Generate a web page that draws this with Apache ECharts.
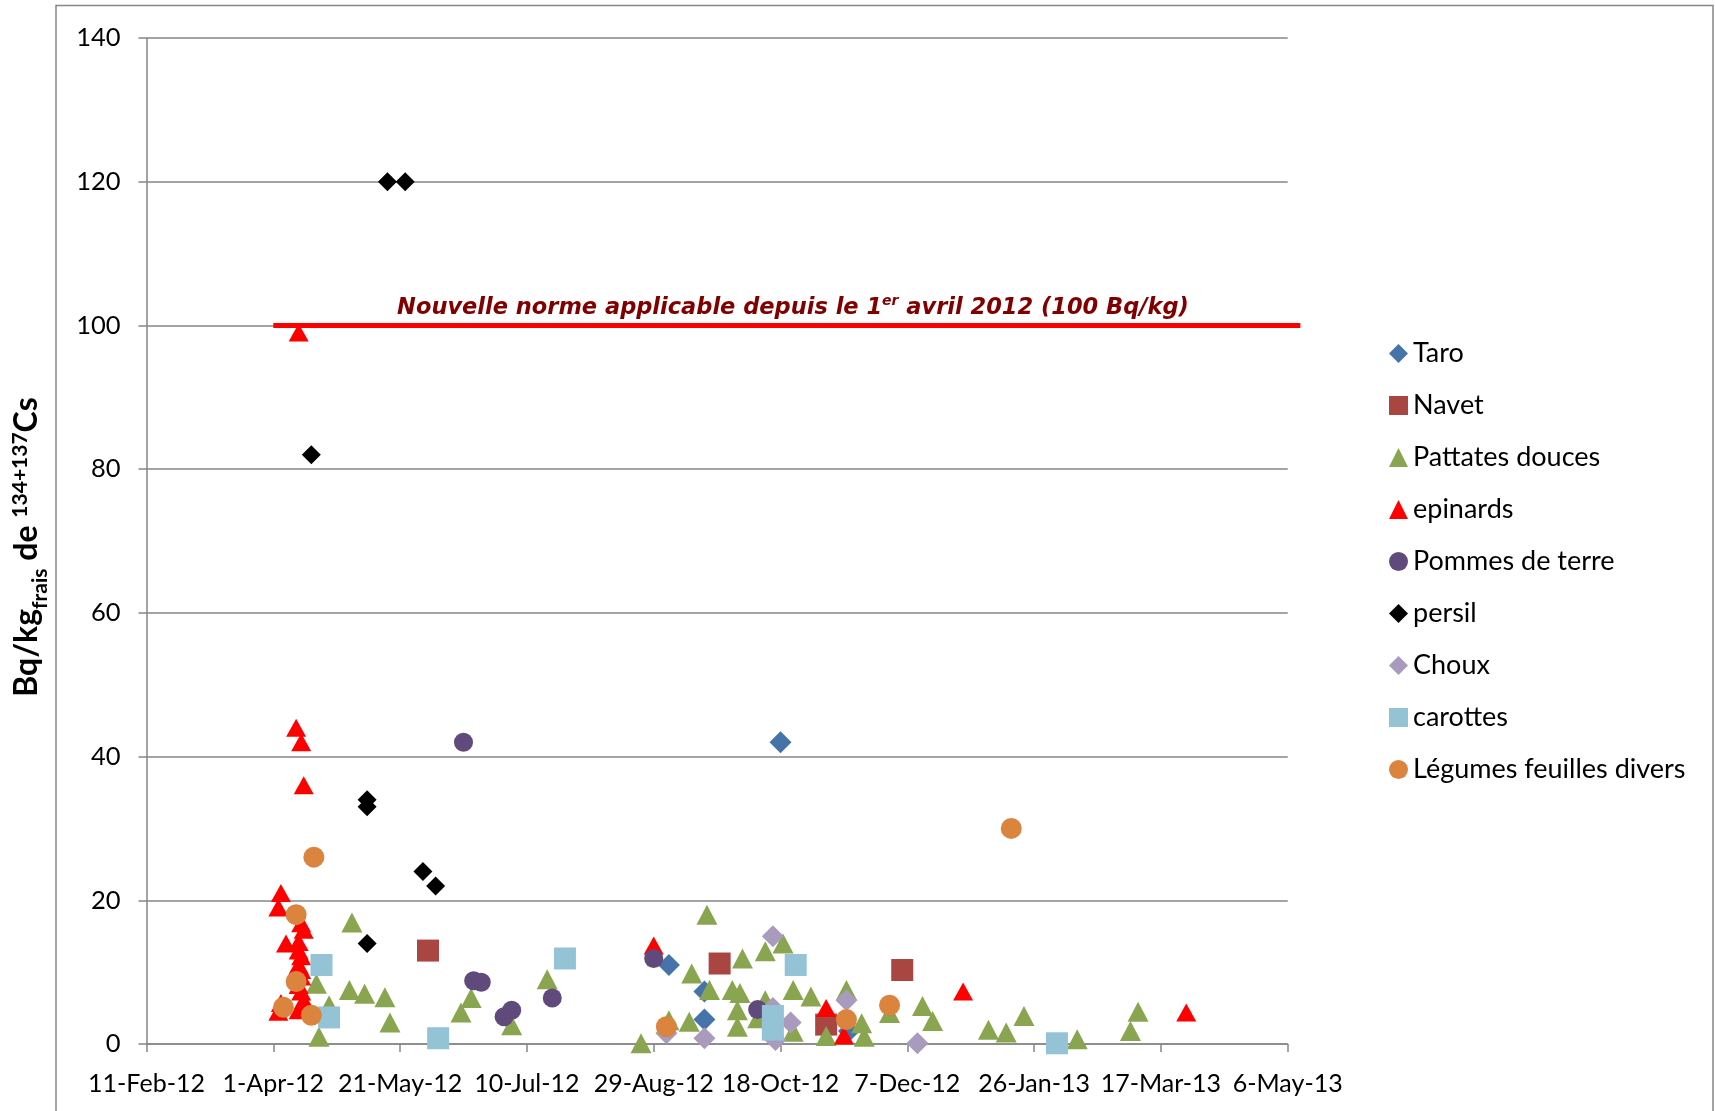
<!DOCTYPE html>
<html><head><meta charset="utf-8">
<script src="https://cdn.jsdelivr.net/npm/echarts/dist/echarts.min.js"></script>
<style>html,body{margin:0;padding:0;background:#fff}#c{width:1715px;height:1111px}</style>
</head><body><div id="c"></div>
<script>
// ---- data ----
const originDate = '2012-02-11';
const xTickStepDays = 50;
const xMaxDays = 450;
const yTicks = [0, 20, 40, 60, 80, 100, 120, 140];
const monthNames = ['Jan','Feb','Mar','Apr','May','Jun','Jul','Aug','Sep','Oct','Nov','Dec'];

const seriesNames = ['Taro','Navet','Pattates douces','epinards','Pommes de terre','persil','Choux','carottes','Légumes feuilles divers'];

const taroDates = ['2012-10-18','2012-09-04','2012-09-18','2012-09-18','2012-11-14'];
const taroValues = [42, 11.0, 7.3, 3.4, 1.8];

const navetDates = ['2012-06-01','2012-09-24','2012-11-05','2012-12-05'];
const navetValues = [13.0, 11.2, 2.7, 10.3];

const pattatesDates = ['2012-04-18','2012-04-19','2012-04-23','2012-05-01','2012-05-02','2012-05-07','2012-05-15','2012-05-17',
  '2012-06-14','2012-06-18','2012-07-04','2012-07-18','2012-08-24','2012-09-04','2012-09-12','2012-09-13','2012-09-19','2012-09-20',
  '2012-09-29','2012-10-01','2012-10-01','2012-10-02','2012-10-03','2012-10-09','2012-10-12','2012-10-12','2012-10-19','2012-10-23',
  '2012-10-23','2012-10-30','2012-11-05','2012-11-13','2012-11-19','2012-11-20','2012-11-30','2012-12-13','2012-12-17',
  '2013-01-08','2013-01-15','2013-01-22','2013-02-12','2013-03-05','2013-03-08'];
const pattatesValues = [8.4, 1.0, 5.4, 7.5, 16.9, 7.0, 6.5, 3.0,
  4.4, 6.4, 2.6, 9.0, 0.1, 3.3, 3.1, 9.8, 18.0, 7.5,
  7.5, 2.4, 4.7, 7.1, 11.9, 3.6, 6.1, 12.9, 14.0, 7.5,
  1.7, 6.6, 1.1, 7.5, 2.9, 1.0, 4.3, 5.3, 3.2,
  2.0, 1.6, 3.9, 0.65, 1.8, 4.5];

const epinardsDates = ['2012-04-03','2012-04-04','2012-04-06','2012-04-10','2012-04-11','2012-04-12','2012-04-13',
  '2012-04-12','2012-04-13','2012-04-11','2012-04-12','2012-04-11','2012-04-12','2012-04-11','2012-04-12','2012-04-13','2012-04-11','2012-04-12','2012-04-11',
  '2012-04-04','2012-04-03','2012-08-29','2012-11-05','2012-11-12','2012-12-29','2013-03-27'];
const epinardsValues = [19, 21, 14, 44, 99, 42, 36,
  16.8, 15.9, 14.2, 12.2, 11.0, 9.4, 8.2, 7.3, 6.1, 4.7, 10.3, 13.0,
  5.7, 4.5, 13.7, 5.0, 1.2, 7.3, 4.4];

const pommesDates = ['2012-06-15','2012-06-19','2012-06-22','2012-07-01','2012-07-04','2012-07-20','2012-08-29','2012-10-09'];
const pommesValues = [42, 8.8, 8.6, 3.8, 4.7, 6.4, 11.9, 4.8];

const persilDates = ['2012-05-16','2012-05-23','2012-04-16','2012-05-08','2012-05-08','2012-05-30','2012-06-04','2012-05-08'];
const persilValues = [120, 120, 82, 34, 33, 24, 22, 14];

const chouxDates = ['2012-09-03','2012-09-18','2012-10-15','2012-10-15','2012-10-22','2012-10-16','2012-11-13','2012-12-11'];
const chouxValues = [1.5, 0.8, 15.0, 5.0, 3.0, 0.55, 6.1, 0.1];

const carottesDates = ['2012-04-20','2012-04-23','2012-06-05','2012-07-25','2012-10-24','2012-10-15','2012-10-15','2013-02-04'];
const carottesValues = [11.0, 3.7, 0.8, 11.9, 11.0, 3.9, 2.0, 0.1];

const legumesDates = ['2012-04-17','2012-04-10','2012-04-10','2012-04-05','2012-04-16','2012-09-03','2012-11-13','2012-11-30','2013-01-17'];
const legumesValues = [26, 18, 8.7, 5.1, 4.0, 2.4, 3.4, 5.4, 30];

const normeDates = ['2012-04-01','2013-05-11'];
const normeValues = [100, 100];
const normeLabel = 'Nouvelle norme applicable depuis le 1';
const normeLabelSup = 'er';
const normeLabelEnd = ' avril 2012 (100 Bq/kg)';

// ---- helpers ----
function parseUTC(s){ const p = s.split('-').map(Number); return Date.UTC(p[0], p[1]-1, p[2]); }
const origin = parseUTC(originDate);
function dayOf(s){ return (parseUTC(s) - origin) / 864e5; }
function pairs(dates, vals){ return dates.map((d,i)=>[dayOf(d), vals[i]]); }
function fmtDay(v){
  const dt = new Date(origin + v*864e5);
  return dt.getUTCDate() + '-' + monthNames[dt.getUTCMonth()] + '-' + String(dt.getUTCFullYear()).slice(2);
}

const FONT = 'Lato';
const NORME_COLOR = '#800000';
const chart = echarts.init(document.getElementById('c'), null, {renderer:'canvas'});

function sc(name, dates, vals, symbol, size, color){
  return { name, type:'scatter', data: pairs(dates, vals), symbol, symbolSize: size,
    itemStyle:{ color, opacity:1 }, emphasis:{disabled:true}, z:3 };
}

const staticGraphics = [
  { id:'frame', type:'rect', silent:true, shape:{ x:56, y:5.5, width:1657, height:1120 },
    style:{ fill:'none', stroke:'#868686', lineWidth:1.5 }, z:-1 },
  { id:'normeText', type:'text', silent:true, x:793, y:308, style:{
    text:'{a|'+normeLabel+'}{s|'+normeLabelSup+'}{a|'+normeLabelEnd+'}',
    align:'center', verticalAlign:'middle', fill:NORME_COLOR,
    rich:{ a:{ fontFamily:'DejaVu Sans', fontStyle:'italic', fontWeight:'bold', fontSize:22.5, fill:NORME_COLOR, color:NORME_COLOR, lineHeight:28 },
           s:{ fontFamily:'DejaVu Sans', fontStyle:'italic', fontWeight:'bold', fontSize:14, fill:NORME_COLOR, color:NORME_COLOR, verticalAlign:'top', lineHeight:28 } } }, z:10 },
  { id:'ytitle', type:'text', silent:true, x:27, y:547, rotation:Math.PI/2, style:{
    text:'{b|Bq/kg}{sub|frais}{b| de }{sup|134+137}{b|Cs}',
    align:'center', verticalAlign:'middle', fill:'#000',
    rich:{ b:{ fontFamily:FONT, fontWeight:'bold', fontSize:32, fill:'#000', lineHeight:34 },
           sub:{ fontFamily:FONT, fontWeight:'bold', fontSize:21, fill:'#000', verticalAlign:'bottom', lineHeight:34, padding:[0,0,-7,0] },
           sup:{ fontFamily:FONT, fontWeight:'bold', fontSize:21, fill:'#000', verticalAlign:'top', lineHeight:34 } } }, z:10 }
];

chart.setOption({
  animation:false,
  backgroundColor:'#fff',
  grid:{ left:146.5, right:427.3, top:38, bottom:67, containLabel:false },
  xAxis:{ type:'value', min:0, max:xMaxDays, interval:xTickStepDays,
    axisLine:{ show:true, lineStyle:{ color:'#868686', width:1.5 } },
    axisTick:{ show:true, length:8, lineStyle:{ color:'#868686', width:1.5 } },
    splitLine:{ show:false },
    axisLabel:{ formatter: fmtDay, fontFamily:FONT, fontSize:25, color:'#000', margin:27 } },
  yAxis:{ type:'value', min:yTicks[0], max:yTicks[yTicks.length-1], interval:20,
    axisLine:{ show:true, lineStyle:{ color:'#868686', width:1.5 } },
    axisTick:{ show:true, length:8, lineStyle:{ color:'#868686', width:1.5 } },
    splitLine:{ show:true, lineStyle:{ color:'#868686', width:1.5 } },
    axisLabel:{ fontFamily:FONT, fontSize:25.5, color:'#000', margin:26 } },
  legend:{ orient:'vertical', left:1384, top:335, itemWidth:19, itemHeight:19, itemGap:25,
    data: seriesNames, textStyle:{ fontFamily:FONT, fontSize:27, color:'#000' }, selectedMode:false },
  graphic: staticGraphics,
  series:[
    sc('Taro', taroDates, taroValues, 'diamond', 22, '#4573AA'),
    sc('Navet', navetDates, navetValues, 'rect', 22, '#A94642'),
    sc('Pattates douces', pattatesDates, pattatesValues, 'triangle', [21,20], '#8AA550'),
    sc('epinards', epinardsDates, epinardsValues, 'triangle', [20,18], '#FF0000'),
    sc('Pommes de terre', pommesDates, pommesValues, 'circle', 19, '#604A7B'),
    sc('persil', persilDates, persilValues, 'diamond', 19, '#000000'),
    sc('Choux', chouxDates, chouxValues, 'diamond', 22, '#A89BBD'),
    sc('carottes', carottesDates, carottesValues, 'rect', 22, '#93C3D5'),
    sc('Légumes feuilles divers', legumesDates, legumesValues, 'circle', 21, '#DB843D')
  ]
});

// norme line: endpoints placed through the axes' scales (extends slightly past the plot edge as in the original)
const pA = chart.convertToPixel({gridIndex:0}, [dayOf(normeDates[0]), normeValues[0]]);
const pB = chart.convertToPixel({gridIndex:0}, [dayOf(normeDates[1]), normeValues[1]]);
chart.setOption({ graphic: staticGraphics.concat([
  { id:'normeLine', type:'line', silent:true, shape:{ x1:pA[0], y1:pA[1], x2:pB[0], y2:pB[1] },
    style:{ stroke:'#FF0000', lineWidth:5 }, z:2 }
]) });
</script></body></html>
